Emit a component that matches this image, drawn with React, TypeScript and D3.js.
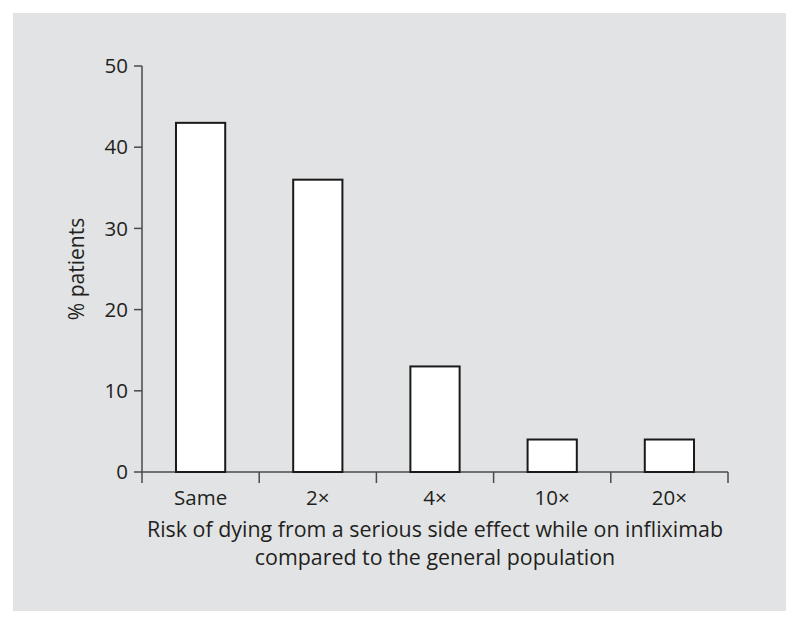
import React from 'react'
import * as d3 from 'd3'

const categories = ['Same', '2\u00d7', '4\u00d7', '10\u00d7', '20\u00d7']
const patients = [43, 36, 13, 4, 4]
const yTicks = [0, 10, 20, 30, 40, 50]

const W = 800
const H = 622
const font = '"Open Sans", "Noto Sans", sans-serif'
const ink = '#231f20'

export default function App() {
  const x = d3.scaleBand<string>().domain(categories).range([142, 728]).paddingInner(0.58).paddingOuter(0.29)
  const y = d3.scaleLinear().domain([0, 50]).range([472, 66])
  const band = d3.scaleBand<string>().domain(categories).range([142, 728])
  const edges = categories.map(c => band(c) as number).concat([728])

  return (
    <svg width={W} height={H} style={{ position: 'absolute', left: 0, top: 0 }}>
      <rect x={13} y={13} width={773} height={598} fill="#e2e3e5" />
      {/* y axis */}
      <line x1={142} x2={142} y1={y(50)} y2={y(0)} stroke="#4a4a4a" strokeWidth={1.5} />
      {yTicks.map(t => (
        <g key={t}>
          <line x1={134} x2={142} y1={y(t)} y2={y(t)} stroke="#4a4a4a" strokeWidth={1.5} />
          <text x={128} y={y(t)} dy="0.35em" textAnchor="end" fontFamily={font} fontSize={20.5} fill={ink}>{t}</text>
        </g>
      ))}
      {/* x axis */}
      <line x1={142} x2={728} y1={y(0)} y2={y(0)} stroke="#4a4a4a" strokeWidth={1.5} />
      {edges.map((e, i) => (
        <line key={i} x1={e} x2={e} y1={y(0)} y2={y(0) + 11} stroke="#4a4a4a" strokeWidth={1.5} />
      ))}
      {categories.map((c, i) => (
        <g key={c}>
          <rect x={x(c)} y={y(patients[i])} width={x.bandwidth()} height={y(0) - y(patients[i])}
            fill="#ffffff" stroke="#1a1a1a" strokeWidth={2} />
          <text x={(band(c) as number) + band.bandwidth() / 2} y={505} textAnchor="middle" fontFamily={font} fontSize={20.5} fill={ink}>{c}</text>
        </g>
      ))}
      <text x={435} y={537} textAnchor="middle" fontFamily={font} fontSize={21.4} fill={ink}>
        Risk of dying from a serious side effect while on infliximab
      </text>
      <text x={435} y={565} textAnchor="middle" fontFamily={font} fontSize={21.4} fill={ink}>
        compared to the general population
      </text>
      <text transform={`translate(84,${(y(0) + y(50)) / 2}) rotate(-90)`} textAnchor="middle" fontFamily={font} fontSize={21} fill={ink}>
        % patients
      </text>
    </svg>
  )
}
